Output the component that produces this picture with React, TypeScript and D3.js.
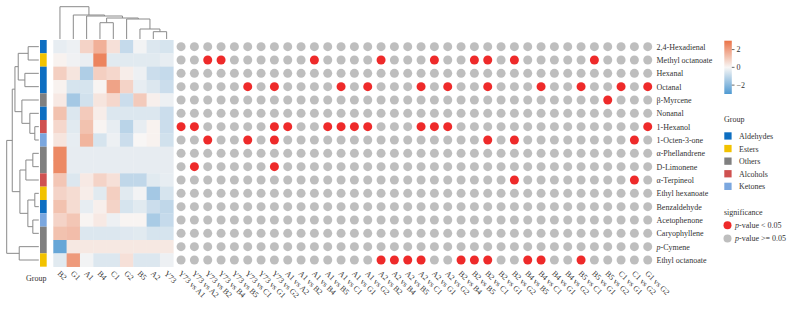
import React from "react";
import * as d3 from "d3";

const heatCols = ["B2", "G1", "A1", "B4", "C1", "G2", "B5", "A2", "Y73"];
const compounds = [
  "2,4-Hexadienal", "Methyl octanoate", "Hexanal", "Octanal", "β-Myrcene", "Nonanal",
  "1-Hexanol", "1-Octen-3-one", "α-Phellandrene", "D-Limonene", "α-Terpineol",
  "Ethyl hexanoate", "Benzaldehyde", "Acetophenone", "Caryophyllene", "p-Cymene", "Ethyl octanoate",
];
const compoundGroups = [
  "Aldehydes", "Esters", "Aldehydes", "Aldehydes", "Others", "Aldehydes", "Alcohols", "Ketones",
  "Others", "Others", "Alcohols", "Esters", "Aldehydes", "Ketones", "Others", "Others", "Esters",
];
const groupNames = ["Aldehydes", "Esters", "Others", "Alcohols", "Ketones"];
const groupColors = ["#0D6EC1", "#F2C200", "#808080", "#CF5150", "#7BA7DF"];

const comparisons = [
  "Y73 vs A1", "Y73 vs A2", "Y73 vs B2", "Y73 vs B4", "Y73 vs B5", "Y73 vs C1", "Y73 vs G1", "Y73 vs G2",
  "A1 vs A2", "A1 vs B2", "A1 vs B4", "A1 vs B5", "A1 vs C1", "A1 vs G1", "A1 vs G2",
  "A2 vs B2", "A2 vs B4", "A2 vs B5", "A2 vs C1", "A2 vs G1", "A2 vs G2",
  "B2 vs B4", "B2 vs B5", "B2 vs C1", "B2 vs G1", "B2 vs G2",
  "B4 vs B5", "B4 vs C1", "B4 vs G1", "B4 vs G2",
  "B5 vs C1", "B5 vs G1", "B5 vs G2",
  "C1 vs G1", "C1 vs G2", "G1 vs G2",
];

// row z-scores, columns in heatCols order
const zScores = [
  [-0.3, -0.2, 0.8, 1.6, 0.5, -0.9, -0.1, -0.5, -0.6],
  [0.1, -0.15, -0.25, 2.6, -0.4, -0.4, -0.4, -0.4, -0.3],
  [0.9, 0.4, -1.3, 0.9, 0.7, 0.2, -0.2, -0.8, -0.9],
  [0.1, -0.6, -0.6, 0.05, 1.9, 0.8, -0.3, -0.5, -0.8],
  [0.3, -1.5, -0.7, 0.4, 0.7, -0.8, 1.0, 0.15, -0.2],
  [1.2, -0.5, 1.0, 0.2, -0.5, -0.5, -0.5, -0.5, -0.8],
  [0.7, -0.4, 1.2, 0.05, -0.3, -1.1, -0.3, 0.1, -0.8],
  [0.4, -0.3, 1.5, -0.6, -0.2, -0.8, 0.0, 0.1, -0.7],
  [2.5, -0.31, -0.31, -0.31, -0.31, -0.31, -0.31, -0.31, -0.31],
  [2.5, -0.31, -0.31, -0.31, -0.31, -0.31, -0.31, -0.31, -0.31],
  [1.1, -0.5, 0.3, 0.8, 0.5, -1.0, -1.0, -0.4, -0.3],
  [0.8, 0.6, 0.2, -0.4, 0.9, -0.4, -0.1, -1.5, -0.6],
  [1.2, 0.6, -0.3, 0.15, 0.8, -0.6, -0.4, -0.8, -1.0],
  [0.8, 1.1, 0.05, 0.3, -0.2, 0.05, 0.05, -1.4, -0.9],
  [1.2, 1.3, -0.5, -0.5, -0.5, -0.45, -0.4, -0.6, -0.6],
  [-2.6, 0.33, 0.33, 0.33, 0.33, 0.33, 0.33, 0.33, 0.33],
  [-0.4, 2.1, -0.1, -0.5, -0.5, 0.5, -0.5, -0.5, -0.2],
];

// indices of comparisons with p-value < 0.05, per compound
const significant = [
  [],
  [2, 3, 10, 15, 19, 22, 23, 25, 31],
  [],
  [5, 7, 12, 14, 18, 20, 23, 27, 30, 33, 35],
  [32],
  [],
  [0, 1, 7, 8, 11, 12, 13, 14, 18, 19, 20, 35],
  [2, 5, 7, 23, 25, 34],
  [],
  [1, 7],
  [25, 34],
  [],
  [],
  [],
  [],
  [],
  [15, 16, 17, 18, 21, 22, 23, 26, 27, 30],
];

type Node = string | [Node, Node, number];
const colTree: Node = ["B2", ["G1", ["A1", [["B4", "C1", 16.3], ["G2", ["B5", ["A2", "Y73", 7.3], 10], 20], 21], 23], 24], 32.3];
const rowTree: Node = [
  [
    [
      [["2,4-Hexadienal", "Methyl octanoate", 10.7], ["Hexanal", "Octanal", 14], 20.7],
      ["β-Myrcene", ["Nonanal", ["1-Hexanol", "1-Octen-3-one", 4], 9], 17],
      24,
    ],
    [
      [["α-Phellandrene", "D-Limonene", 6], "α-Terpineol", 13],
      [["Ethyl hexanoate", "Benzaldehyde", 4], ["Acetophenone", "Caryophyllene", 6], 11],
      19,
    ],
    26.7,
  ],
  ["p-Cymene", "Ethyl octanoate", 19.7],
  32.3,
];

const legendTicks = [-2, 0, 2];

const FONT = "'Liberation Serif', 'Times New Roman', serif";

function dendroPaths(tree: Node, leafPos: (s: string) => number, hPos: (h: number) => number, vertical: boolean) {
  const paths: string[] = [];
  const walk = (n: Node): { p: number; h: number } => {
    if (typeof n === "string") return { p: leafPos(n), h: 0 };
    const a = walk(n[0]);
    const b = walk(n[1]);
    const hn = n[2];
    const H = hPos(hn), Ha = hPos(a.h), Hb = hPos(b.h);
    if (vertical) {
      paths.push(`M${a.p},${Ha}V${H}H${b.p}V${Hb}`);
    } else {
      paths.push(`M${Ha},${a.p}H${H}V${b.p}H${Hb}`);
    }
    return { p: (a.p + b.p) / 2, h: hn };
  };
  walk(tree);
  return paths;
}

export default function App() {
  const cell = 120 / 9;
  const x = d3.scaleBand<string>().domain(heatCols).range([53.3, 173.3]);
  const y = d3.scaleBand<string>().domain(compounds).range([40, 40 + cell * 17]);
  const xd = d3.scaleBand<string>().domain(comparisons).range([174.4, 174.4 + cell * 36]);
  const color = d3.scaleLinear<string>().domain([-3, 0, 3]).range(["#4F9AD2", "#F8F6F5", "#EA7347"]);
  const groupColor = d3.scaleOrdinal<string, string>().domain(groupNames).range(groupColors);
  const topH = d3.scaleLinear().domain([0, 32.3]).range([39, 6.7]);
  const leftH = d3.scaleLinear().domain([0, 32.3]).range([38.8, 6.7]);
  const barY = d3.scaleLinear().domain([-3, 3]).range([94, 40.7]);

  const colPaths = dendroPaths(colTree, (s) => x(s)! + cell / 2, topH, true);
  const rowPaths = dendroPaths(rowTree, (s) => y(s)! + cell / 2, leftH, false);

  const gradStops = d3.range(0, 11).map((i) => -3 + (6 * i) / 10);

  const renderName = (name: string) =>
    name.startsWith("p-") ? (
      <>
        <tspan fontStyle="italic">p</tspan>
        {name.slice(1)}
      </>
    ) : (
      name
    );

  return (
    <svg width={793} height={309} style={{ position: "absolute", left: 0, top: 0, background: "#fff" }} fontFamily={FONT}>
      <defs>
        <linearGradient id="cbar" x1="0" y1="1" x2="0" y2="0">
          {gradStops.map((v, i) => (
            <stop key={i} offset={`${i * 10}%`} stopColor={color(v)} />
          ))}
        </linearGradient>
      </defs>
      {/* dendrograms */}
      <g fill="none" stroke="#8a8a8a" strokeWidth={1}>
        {colPaths.map((d, i) => <path key={"c" + i} d={d} />)}
        {rowPaths.map((d, i) => <path key={"r" + i} d={d} />)}
      </g>
      {/* group annotation */}
      {compounds.map((c, i) => (
        <rect key={"g" + c} x={40} y={y(c)!} width={6.7} height={y.bandwidth()} fill={groupColor(compoundGroups[i])} />
      ))}
      {/* heatmap */}
      {compounds.map((c, i) =>
        heatCols.map((col, j) => (
          <rect key={c + col} x={x(col)!} y={y(c)!} width={x.bandwidth() + 0.3} height={y.bandwidth() + 0.3} fill={color(zScores[i][j])} />
        ))
      )}
      {/* dots */}
      {compounds.map((c, i) =>
        comparisons.map((cmp, j) => (
          <circle
            key={c + cmp}
            cx={xd(cmp)! + cell / 2}
            cy={y(c)! + cell / 2}
            r={4.5}
            fill={significant[i].includes(j) ? "#EE2A2A" : "#BEBEBE"}
          />
        ))
      )}
      {/* row labels */}
      {compounds.map((c) => (
        <text key={"l" + c} x={656.5} y={y(c)! + cell / 2 + 3} fontSize={8} fill="#333">
          {renderName(c)}
        </text>
      ))}
      {/* column labels */}
      {heatCols.map((col) => (
        <text key={"hc" + col} transform={`translate(${x(col)! + cell / 2 - 3},${274}) rotate(45)`} fontSize={8} fill="#333">
          {col}
        </text>
      ))}
      {comparisons.map((cmp) => (
        <text key={"dc" + cmp} transform={`translate(${xd(cmp)! + cell / 2 - 3},${274}) rotate(45)`} fontSize={8} fill="#333">
          {cmp}
        </text>
      ))}
      <text x={46.5} y={281} fontSize={8} textAnchor="end" fill="#333">Group</text>
      {/* color bar legend */}
      <rect x={724.3} y={40.7} width={7.5} height={53.3} fill="url(#cbar)" />
      {legendTicks.map((t) => (
        <g key={"t" + t}>
          <line x1={731.8} x2={734.5} y1={barY(t)} y2={barY(t)} stroke="#444" strokeWidth={0.8} />
          <text x={736.5} y={barY(t) + 2.8} fontSize={8} fill="#333">
            {t < 0 ? "\u2212" + Math.abs(t) : String(t)}
          </text>
        </g>
      ))}
      {/* group legend */}
      <text x={724} y={121.5} fontSize={8} fill="#333">Group</text>
      {groupNames.map((g, i) => (
        <g key={"lg" + g}>
          <rect x={724.3} y={132.3 + 12.6 * i} width={7.3} height={7.3} fill={groupColor(g)} />
          <text x={739} y={138.9 + 12.6 * i} fontSize={8} fill="#333">{g}</text>
        </g>
      ))}
      {/* significance legend */}
      <text x={724} y={215} fontSize={8} fill="#333">significance</text>
      <circle cx={727.5} cy={225.2} r={4} fill="#EE2A2A" />
      <text x={735} y={228} fontSize={8} fill="#333">
        <tspan fontStyle="italic">p</tspan>-value &lt; 0.05
      </text>
      <circle cx={727.5} cy={238.5} r={4} fill="#BEBEBE" />
      <text x={735} y={241.3} fontSize={8} fill="#333">
        <tspan fontStyle="italic">p</tspan>-value &gt;= 0.05
      </text>
    </svg>
  );
}
